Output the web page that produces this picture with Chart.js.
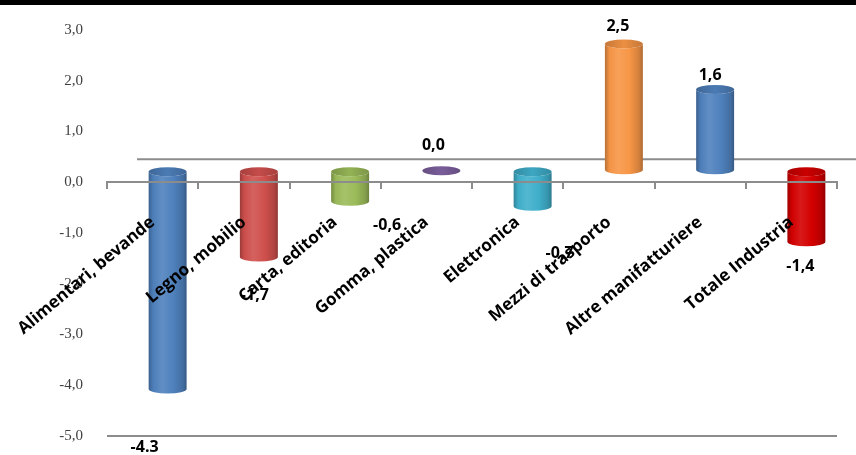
<!DOCTYPE html>
<html>
<head>
<meta charset="utf-8">
<script src="https://cdn.jsdelivr.net/npm/chart.js@4.4.1/dist/chart.umd.min.js"></script>
<style>
html,body{margin:0;padding:0;background:#fff;}
#wrap{position:relative;width:856px;height:455px;}
#band{position:absolute;left:0;top:0;width:856px;height:5px;background:#000;}
</style>
</head>
<body>
<div id="wrap">
  <canvas id="chart" width="856" height="455"></canvas>
  <div id="band"></div>
</div>
<script>
// Data
const categories = ["Alimentari, bevande","Legno, mobilio","Carta, editoria","Gomma, plastica",
                    "Elettronica","Mezzi di trasporto","Altre manifatturiere","Totale Industria"];
const values = [-4.3, -1.7, -0.6, 0.0, -0.7, 2.5, 1.6, -1.4];
const valueLabels = ["-4.3","-1,7","-0,6","0,0","-0,7","2,5","1,6","-1,4"];
const yTicks = [3, 2, 1, 0, -1, -2, -3, -4, -5];

// Style
const barColors = ["#4f81bd","#cf504d","#9bbb59","#7f62a1","#40afcb","#f79646","#4f81bd","#d40000"];
const labelNudge = [[-23,58],[-4,38],[37,24],[-8,-25],[27,47],[-6,-17],[-5,-14],[-6,25]];
const depth = {dx:30, dy:23};
const axisGrey = "#8c8c8c";

function shade(hex, f){
  const n = parseInt(hex.slice(1),16);
  let r = n>>16, g = (n>>8)&255, b = n&255;
  const t = f<0 ? 0 : 255, p = Math.abs(f);
  r = Math.round((t-r)*p+r); g = Math.round((t-g)*p+g); b = Math.round((t-b)*p+b);
  return `rgb(${r},${g},${b})`;
}

function noPadding(s){
  s.paddingTop = 0; s.paddingBottom = 0; s.paddingLeft = 0; s.paddingRight = 0;
}

function drawCylinder(ctx, cx, top, bot, rx, ry, color){
  ctx.save();
  if(bot - top > 0.5){
    const grad = ctx.createLinearGradient(cx-rx,0,cx+rx,0);
    grad.addColorStop(0, shade(color,-0.25));
    grad.addColorStop(0.12, shade(color,-0.02));
    grad.addColorStop(0.35, shade(color,0.1));
    grad.addColorStop(0.65, color);
    grad.addColorStop(0.9, shade(color,-0.15));
    grad.addColorStop(1, shade(color,-0.3));
    ctx.beginPath();
    ctx.moveTo(cx-rx, top);
    ctx.lineTo(cx-rx, bot);
    ctx.ellipse(cx, bot, rx, ry, 0, Math.PI, 0, true);
    ctx.lineTo(cx+rx, top);
    ctx.ellipse(cx, top, rx, ry, 0, 0, Math.PI, false);
    ctx.closePath();
    ctx.fillStyle = grad;
    ctx.fill();
  }
  const capGrad = ctx.createLinearGradient(cx-rx,0,cx+rx,0);
  capGrad.addColorStop(0, shade(color,-0.2));
  capGrad.addColorStop(0.5, shade(color,-0.05));
  capGrad.addColorStop(1, shade(color,-0.2));
  ctx.beginPath();
  ctx.ellipse(cx, top, rx, ry, 0, 0, Math.PI*2);
  ctx.fillStyle = capGrad;
  ctx.fill();
  ctx.restore();
}

const cylinders = {
  id:"cylinders",
  beforeDatasetsDraw(chart){
    const {ctx, scales:{x, y}} = chart;
    const yb = y.getPixelForValue(0) - depth.dy;
    ctx.save();
    ctx.strokeStyle = axisGrey; ctx.lineWidth = 2;
    ctx.beginPath(); ctx.moveTo(x.left+depth.dx, yb); ctx.lineTo(chart.width, yb); ctx.stroke();
    ctx.restore();
  },
  afterDatasetsDraw(chart){
    const ctx = chart.ctx;
    chart.getDatasetMeta(0).data.forEach((bar,i)=>{
      const p = bar.getProps(["x","y","base","width"], true);
      const cx = p.x + depth.dx/2;
      const top = Math.min(p.y,p.base) - depth.dy/2;
      const bot = Math.max(p.y,p.base) - depth.dy/2;
      drawCylinder(ctx, cx, top, bot, p.width/2, 4.5, barColors[i]);
    });
  },
  afterDraw(chart){
    const ctx = chart.ctx;
    ctx.save();
    ctx.font = "bold 16px 'Open Sans'";
    ctx.fillStyle = "#000";
    ctx.textAlign = "center"; ctx.textBaseline = "middle";
    chart.getDatasetMeta(0).data.forEach((bar,i)=>{
      const p = bar.getProps(["x","y"], true);
      ctx.fillText(valueLabels[i], p.x + depth.dx/2 + labelNudge[i][0], p.y - depth.dy/2 + labelNudge[i][1]);
    });
    ctx.restore();
  }
};

new Chart(document.getElementById("chart"), {
  type:"bar",
  data:{
    labels:categories,
    datasets:[{
      data:values,
      backgroundColor:"rgba(0,0,0,0)",
      borderWidth:0,
      categoryPercentage:1,
      barPercentage:0.416
    }]
  },
  options:{
    responsive:false,
    animation:false,
    layout:{padding:{top:30,right:19,bottom:19,left:0}},
    plugins:{legend:{display:false},tooltip:{enabled:false}},
    scales:{
      x:{
        position:{y:0},
        offset:true,
        afterFit:s=>{ s.height = 0; noPadding(s); },
        grid:{offset:true, drawOnChartArea:false, tickLength:6, color:axisGrey, lineWidth:2, z:1},
        border:{color:axisGrey, width:2, z:1},
        ticks:{minRotation:40, maxRotation:40, autoSkip:false, padding:24, color:"#000",
               font:{family:"'Open Sans'", weight:"bold", size:17}, z:1}
      },
      y:{
        min:-5, max:3,
        afterBuildTicks:s=>{ s.ticks = yTicks.map(v=>({value:v})); },
        afterFit:s=>{ s.width = 107; noPadding(s); },
        grid:{drawTicks:false, lineWidth:2, color:c=>c.tick && c.tick.value===-5 ? axisGrey : "rgba(0,0,0,0)"},
        border:{display:false},
        ticks:{padding:24, color:"#404040", font:{family:"'Liberation Serif'", size:15},
               callback:v=>v.toFixed(1).replace(".",",")}
      }
    }
  },
  plugins:[cylinders]
});
</script>
</body>
</html>
